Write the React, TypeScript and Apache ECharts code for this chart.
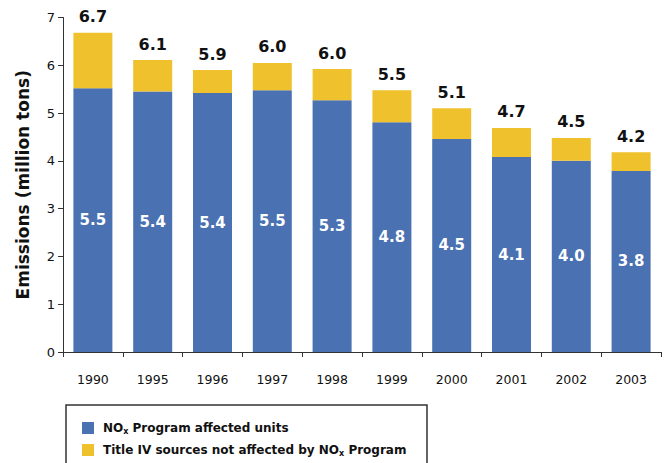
import React, { useEffect, useRef } from "react";
import * as echarts from "echarts";

const years = ["1990", "1995", "1996", "1997", "1998", "1999", "2000", "2001", "2002", "2003"];
const affectedUnits = [5.52, 5.45, 5.42, 5.48, 5.27, 4.81, 4.46, 4.08, 4.0, 3.79];
const totals = [6.68, 6.11, 5.9, 6.05, 5.92, 5.48, 5.1, 4.69, 4.48, 4.18];
const affectedLabels = ["5.5", "5.4", "5.4", "5.5", "5.3", "4.8", "4.5", "4.1", "4.0", "3.8"];
const totalLabels = ["6.7", "6.1", "5.9", "6.0", "6.0", "5.5", "5.1", "4.7", "4.5", "4.2"];
const yTicks = [0, 1, 2, 3, 4, 5, 6, 7];

const otherSources = totals.map((t, i) => Math.round((t - affectedUnits[i]) * 100) / 100);

const FONT = "DejaVu Sans";

export default function App() {
  const ref = useRef<HTMLDivElement>(null);
  useEffect(() => {
    if (!ref.current) return;
    const chart = echarts.init(ref.current, null, { renderer: "svg" });
    const rich = {
      b: { fontFamily: FONT, fontWeight: "bold", fontSize: 12, color: "#111" },
      s: { fontFamily: FONT, fontWeight: "bold", fontSize: 8, color: "#111", verticalAlign: "bottom", padding: [6, 0, 0, 0] },
    };
    chart.setOption({
      animation: false,
      grid: { left: 63, right: 6, top: 17.5, bottom: 111, containLabel: false },
      legend: {
        orient: "vertical",
        left: 77,
        top: 417,
        itemWidth: 12,
        itemHeight: 12,
        itemGap: 9,
        icon: "rect",
        data: ["affected", "other"],
        formatter: (name: string) =>
          name === "affected"
            ? "{b|NO}{s|x}{b| Program affected units}"
            : "{b|Title IV sources not affected by NO}{s|x}{b| Program}",
        textStyle: { rich, padding: [0, 0, 0, 4] },
      },
      graphic: [
        {
          type: "rect",
          shape: { x: 66, y: 405, width: 361, height: 70 },
          style: { fill: "none", stroke: "#333", lineWidth: 1.5 },
          silent: true,
        },
      ],
      xAxis: {
        type: "category",
        data: years,
        axisLine: { lineStyle: { color: "#333", width: 1 } },
        axisTick: { show: true, length: 5, alignWithLabel: false, lineStyle: { color: "#333" } },
        axisLabel: { fontFamily: FONT, fontSize: 12.5, color: "#111", margin: 21 },
      },
      yAxis: {
        type: "value",
        min: yTicks[0],
        max: yTicks[yTicks.length - 1],
        interval: 1,
        name: "Emissions (million tons)",
        nameLocation: "middle",
        nameGap: 32,
        nameTextStyle: { fontFamily: FONT, fontWeight: "bold", fontSize: 17, color: "#111" },
        axisLine: { show: true, lineStyle: { color: "#333", width: 1 } },
        axisTick: { show: true, length: 5, lineStyle: { color: "#333" } },
        axisLabel: { fontFamily: FONT, fontSize: 13, color: "#111", margin: 8 },
        splitLine: { show: false },
      },
      series: [
        {
          name: "affected",
          type: "bar",
          stack: "total",
          barWidth: 39,
          data: affectedUnits,
          itemStyle: { color: "#4A71B1" },
          label: {
            show: true,
            position: "inside",
            formatter: (p: any) => affectedLabels[p.dataIndex],
            fontFamily: FONT,
            fontWeight: "bold",
            fontSize: 15,
            color: "#fff",
          },
        },
        {
          name: "other",
          type: "bar",
          stack: "total",
          barWidth: 39,
          data: otherSources,
          itemStyle: { color: "#EFC22D" },
          label: {
            show: true,
            position: "top",
            distance: 8,
            formatter: (p: any) => totalLabels[p.dataIndex],
            fontFamily: FONT,
            fontWeight: "bold",
            fontSize: 16,
            color: "#111",
          },
        },
      ],
    });
    return () => chart.dispose();
  }, []);
  return <div ref={ref} style={{ width: 667, height: 463, position: "absolute", left: 0, top: 0 }} />;
}
